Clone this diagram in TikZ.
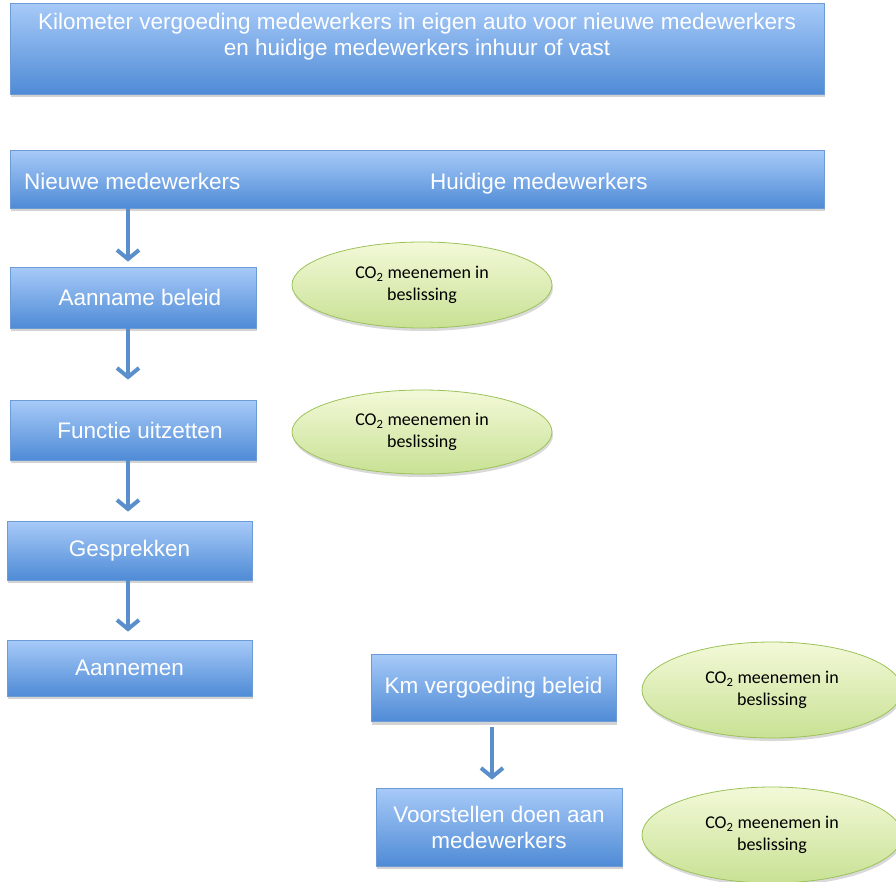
\documentclass[tikz,border=0pt]{standalone}
\usepackage{fontspec}
\setmainfont{Liberation Sans}
\newfontfamily\ellipsfont{Carlito}
\usetikzlibrary{arrows.meta,shapes.geometric,shadows}

\definecolor{boxtop}{HTML}{A7CAF8}
\definecolor{boxbottom}{HTML}{4F8BD6}
\definecolor{boxedge}{HTML}{6C9BD6}
\definecolor{elltop}{HTML}{F3F9D8}
\definecolor{ellbottom}{HTML}{C8E194}
\definecolor{elledge}{HTML}{9CC25A}
\definecolor{pijlkleur}{HTML}{5A8FCB}

\tikzset{
  bluebox/.style={draw=boxedge, line width=0.8pt, top color=boxtop, bottom color=boxbottom,
    text=white, font=\fontsize{22.5}{26}\selectfont, align=center, inner sep=0pt,
    drop shadow={shadow xshift=1pt, shadow yshift=-3pt, opacity=0.35}},
  co2ellips/.style={ellipse, draw=elledge, line width=0.8pt, top color=elltop, bottom color=ellbottom,
    font=\ellipsfont\fontsize{18}{22}\selectfont, align=center, inner sep=0pt,
    drop shadow={shadow xshift=1pt, shadow yshift=-3pt, opacity=0.3}},
  pijl/.style={draw=pijlkleur, line width=4pt, -{Straight Barb[length=9pt,width=22pt]}},
  witte tekst/.style={text=white, font=\fontsize{22.5}{26}\selectfont, inner sep=0pt}
}

\begin{document}
\begin{tikzpicture}[x=1pt,y=-1pt]
    % Define the page
    \useasboundingbox (0,0) rectangle (896,881);
    \clip (0,0) rectangle (896,881);

    % Title and header bars
    \node[bluebox, minimum width=814, minimum height=91] (titel) at (417,48.5) {};
    \node[witte tekst, align=center] (titeltekst) at (417,37)
      {Kilometer vergoeding medewerkers in eigen auto voor nieuwe medewerkers\\
       en huidige medewerkers inhuur of vast};
    \node[bluebox, minimum width=814, minimum height=58] (balk) at (417,179) {};
    \node[witte tekst, anchor=base west] (nieuwe) at (24,189) {Nieuwe medewerkers};
    \node[witte tekst, anchor=base west] (huidige) at (430,189) {Huidige medewerkers};

    % Left column: new employees
    \node[bluebox, minimum width=246, minimum height=61] (aanname) at (133,297.5) {\hspace*{14pt}Aanname beleid};
    \node[bluebox, minimum width=246, minimum height=60] (functie) at (133,430) {\hspace*{14pt}Functie uitzetten};
    \node[bluebox, minimum width=245, minimum height=59] (gesprekken) at (129.5,550.5) {Gesprekken};
    \node[bluebox, minimum width=245, minimum height=56] (aannemen) at (129.5,668) {Aannemen};

    % Right column: current employees
    \node[bluebox, minimum width=245, minimum height=67] (km) at (493.5,688) {Km vergoeding beleid};
    \node[bluebox, minimum width=246, minimum height=78] (voorstellen) at (499,827)
      {Voorstellen doen aan\\medewerkers};

    % CO2 ellipses
    \node[co2ellips, minimum width=260, minimum height=86] (co2a) at (422,285) {CO\textsubscript{2} meenemen in\\beslissing};
    \node[co2ellips, minimum width=260, minimum height=84] (co2b) at (422,432) {CO\textsubscript{2} meenemen in\\beslissing};
    \node[co2ellips, minimum width=260, minimum height=96] (co2c) at (772,690) {CO\textsubscript{2} meenemen in\\beslissing};
    \node[co2ellips, minimum width=260, minimum height=96] (co2d) at (772,835) {CO\textsubscript{2} meenemen in\\beslissing};

    % Arrows
    \coordinate (pijlx) at (128,0);
    \coordinate (pijlx2) at (492,0);
    \draw[pijl] (balk.south -| pijlx) -- ([yshift=5pt]aanname.north -| pijlx);
    \draw[pijl] (aanname.south -| pijlx) -- ([yshift=20pt]functie.north -| pijlx);
    \draw[pijl] (functie.south -| pijlx) -- ([yshift=9pt]gesprekken.north -| pijlx);
    \draw[pijl] (gesprekken.south -| pijlx) -- ([yshift=8pt]aannemen.north -| pijlx);
    \draw[pijl] ([yshift=-5pt]km.south -| pijlx2) -- ([yshift=8pt]voorstellen.north -| pijlx2);

\end{tikzpicture}
\end{document}
